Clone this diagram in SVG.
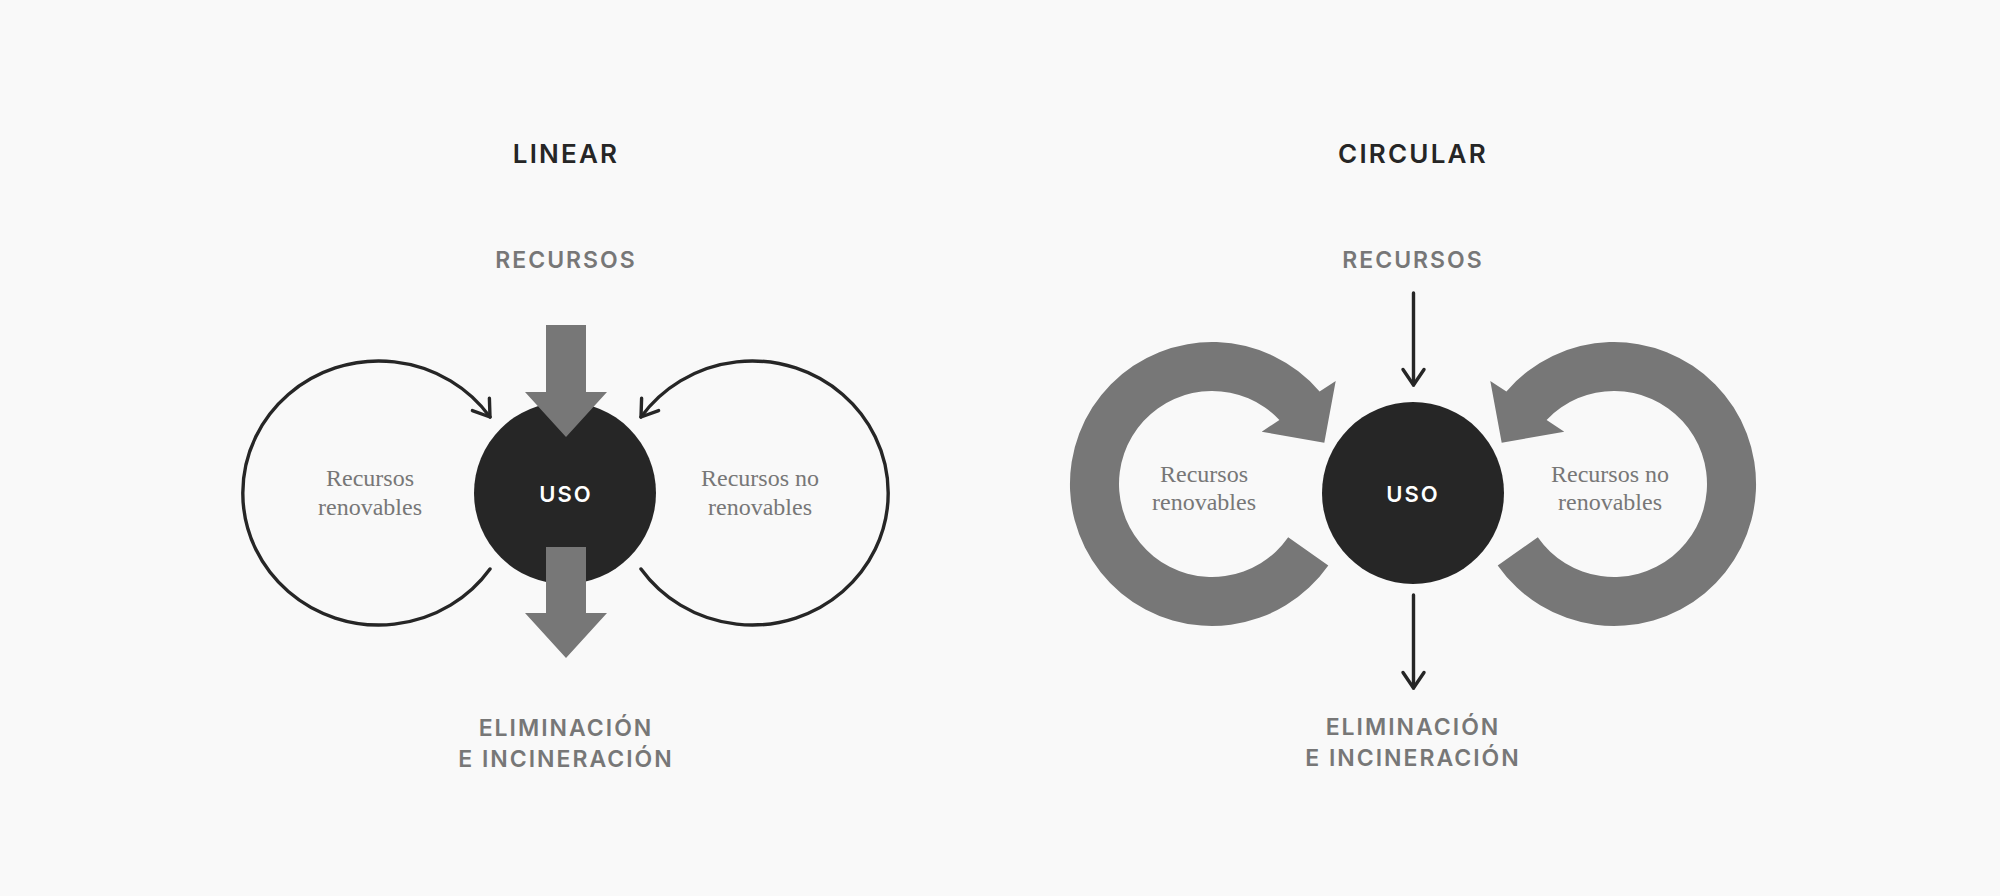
<svg xmlns="http://www.w3.org/2000/svg" width="2000" height="896" viewBox="0 0 2000 896">
<style>
.title{font-family:Inter,"Noto Sans","DejaVu Sans",sans-serif;font-weight:600;font-size:26px;letter-spacing:2.2px;fill:#262626;text-anchor:middle}
.lab{font-family:Inter,"Noto Sans","DejaVu Sans",sans-serif;font-weight:600;font-size:23px;letter-spacing:2px;fill:#777777;text-anchor:middle}
.uso{font-family:Inter,"Noto Sans","DejaVu Sans",sans-serif;font-weight:600;font-size:22px;letter-spacing:2px;fill:#ffffff;text-anchor:middle}
.serif{font-family:"Liberation Serif","DejaVu Serif",serif;font-size:24px;fill:#777777;text-anchor:middle}
.hub{fill:#262626}
.block{fill:#777777}
.thin{fill:none;stroke:#262626;stroke-width:3.4;stroke-linecap:round}
</style>
<defs>
<marker id="chev" markerUnits="userSpaceOnUse" markerWidth="40" markerHeight="40" viewBox="-20 -20 40 40" refX="0" refY="0" orient="auto">
<path d="M-15.5,-10.5 L0,0 L-15.5,10.5" fill="none" stroke="#262626" stroke-width="3.4" stroke-linecap="round" stroke-linejoin="round"/>
</marker>
</defs>
<rect width="2000" height="896" fill="#f9f9f9"/>

<g id="linear-title"><text class="title" x="566" y="163">LINEAR</text></g>
<g id="circular-title"><text class="title" x="1413" y="163">CIRCULAR</text></g>

<g id="linear-recursos"><text class="lab" x="566" y="268">RECURSOS</text></g>
<g id="linear-uso"><circle class="hub" cx="565" cy="493" r="91"/><text class="uso" x="566" y="502">USO</text></g>
<g id="linear-eliminacion"><text class="lab" x="566" y="736">ELIMINACIÓN</text><text class="lab" x="566" y="767">E INCINERACIÓN</text></g>
<g id="linear-renovables"><text class="serif" x="370" y="486">Recursos</text><text class="serif" x="370" y="515">renovables</text></g>
<g id="linear-norenovables"><text class="serif" x="760" y="486">Recursos no</text><text class="serif" x="760" y="515">renovables</text></g>

<g id="circular-recursos"><text class="lab" x="1413" y="268">RECURSOS</text></g>
<g id="circular-uso"><circle class="hub" cx="1413" cy="493" r="91"/><text class="uso" x="1413" y="502">USO</text></g>
<g id="circular-eliminacion"><text class="lab" x="1413" y="735">ELIMINACIÓN</text><text class="lab" x="1413" y="766">E INCINERACIÓN</text></g>
<g id="circular-renovables"><text class="serif" x="1204" y="482">Recursos</text><text class="serif" x="1204" y="510">renovables</text></g>
<g id="circular-norenovables"><text class="serif" x="1610" y="482">Recursos no</text><text class="serif" x="1610" y="510">renovables</text></g>

<g id="connectors">
<polygon class="block" points="546,325 586,325 586,392 607,392 566,437 525,392 546,392"/>
<polygon class="block" points="546,547 586,547 586,613 607,613 566,658 525,613 546,613"/>
<path class="thin" d="M490,569 A136 132 0 1 1 490,417" marker-end="url(#chev)"/>
<path class="thin" d="M641,569 A136 132 0 1 0 641,417" marker-end="url(#chev)"/>
<path class="thin" d="M1413.5,293 L1413.5,385" marker-end="url(#chev)"/>
<path class="thin" d="M1413.5,595 L1413.5,688" marker-end="url(#chev)"/>
<path class="block" d="M1319.6,391.4 L1335.7,381 L1324.3,442.7 L1261.7,431.7 L1279.4,419.9 A93 93 0 1 0 1288.2,537.3 L1328.3,565.4 A142 142 0 1 1 1319.6,391.4 Z"/>
<path class="block" d="M1506.4,391.4 L1490.3,381 L1501.7,442.7 L1564.3,431.7 L1546.6,419.9 A93 93 0 1 1 1537.8,537.3 L1497.7,565.4 A142 142 0 1 0 1506.4,391.4 Z"/>
</g>
</svg>
